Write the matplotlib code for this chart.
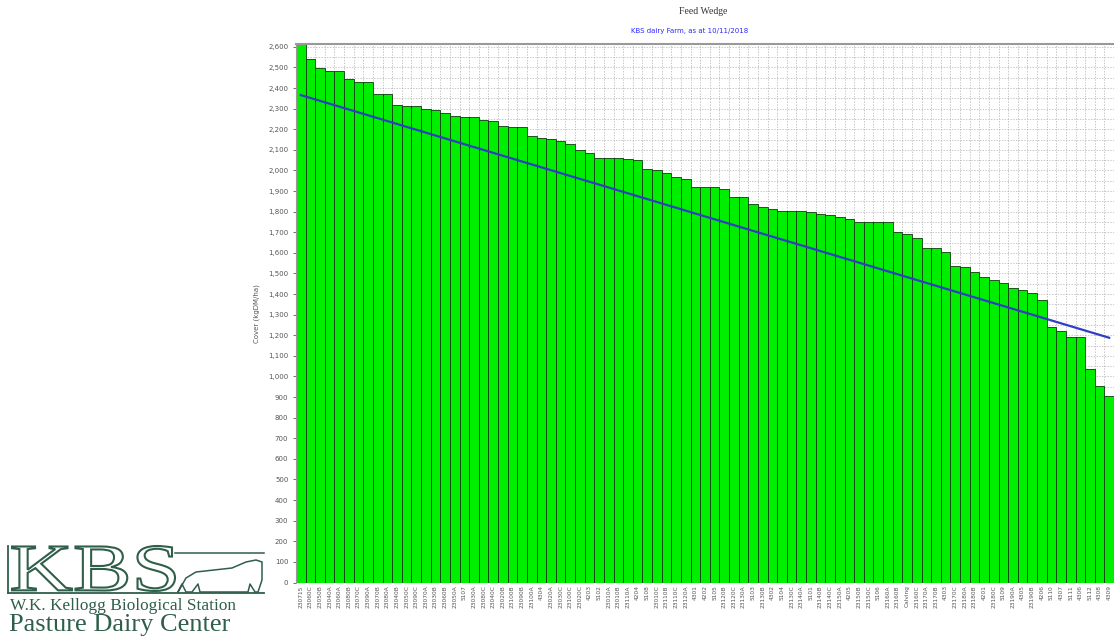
import matplotlib
matplotlib.use("Agg")
import matplotlib.pyplot as plt
from matplotlib.ticker import MultipleLocator, FuncFormatter
from matplotlib.textpath import TextPath
from matplotlib.patches import PathPatch
from matplotlib.font_manager import FontProperties
from matplotlib.transforms import Affine2D
import numpy as np

# data
cover = [2650, 2540, 2499, 2483, 2483, 2443, 2431, 2431, 2371, 2371,
         2318, 2315, 2315, 2300, 2294, 2281, 2263, 2261, 2258, 2245,
         2242, 2216, 2213, 2213, 2167, 2156, 2151, 2145, 2129, 2100,
         2083, 2062, 2062, 2059, 2054, 2051, 2006, 2002, 1986, 1970,
         1959, 1918, 1918, 1918, 1910, 1873, 1873, 1836, 1824, 1813,
         1805, 1805, 1805, 1797, 1787, 1784, 1773, 1765, 1752, 1752,
         1750, 1749, 1703, 1690, 1674, 1625, 1622, 1606, 1536, 1533,
         1509, 1484, 1468, 1455, 1428, 1420, 1407, 1371, 1242, 1222,
         1193, 1193, 1035, 954, 905]
paddocks = ["230715", "23060C", "23050B", "23040A", "23060A", "23080B", "23070C", "23090A",
            "23070B", "23080A", "23040B", "23050C", "23090C", "23070A", "23030B", "23060B",
            "23050A", "5107", "23030A", "23080C", "23040C", "23020B", "23100B", "23090B",
            "23100A", "4304", "23020A", "23030C", "23100C", "23020C", "4203", "5102",
            "23010A", "23010B", "23110A", "4204", "5108", "23010C", "23110B", "23110C",
            "23120A", "4301", "4202", "5105", "23120B", "23120C", "23130A", "5103",
            "23130B", "4302", "5104", "23130C", "23140A", "5101", "23140B", "23140C",
            "23150A", "4205", "23150B", "23150C", "5106", "23160A", "23160B", "Calving",
            "23160C", "23170A", "23170B", "4303", "23170C", "23180A", "23180B", "4201",
            "23180C", "5109", "23190A", "4305", "23190B", "4206", "5110", "4307",
            "5111", "4306", "5112", "4308", "4309"]
demand_x = [0, 84]
demand = [2366, 1188]

fig = plt.figure(figsize=(11.14, 6.38), dpi=100)
ax = fig.add_axes([296 / 1114, (638 - 582.5) / 638, 1 - 296 / 1114, (582.5 - 44) / 638])

x = np.arange(len(cover))
ax.bar(x, cover, width=1.0, color="#00ee00", edgecolor="#0b3a0b", linewidth=0.6, zorder=2)
ax.plot(demand_x, demand, color="#2f3fc4", linewidth=1.6, zorder=3)

ax.set_xlim(-0.5, 84.0)
ax.set_ylim(0, 2614)

ax.yaxis.set_major_locator(MultipleLocator(100))
ax.yaxis.set_minor_locator(MultipleLocator(50))
ax.yaxis.set_major_formatter(FuncFormatter(lambda v, p: f"{int(v):,}"))
ax.set_xticks(x)
ax.set_xticklabels(paddocks, rotation=90, fontsize=4.2, color="#555555")
ax.set_xticks(np.arange(-0.5, 85, 1.0), minor=True)
ax.tick_params(axis="y", labelsize=5, colors="#555555", length=2, width=0.6)
ax.tick_params(axis="x", length=0, pad=2)
ax.tick_params(which="minor", length=0)

ax.grid(True, which="minor", color="#b0b0b0", linestyle=(0, (2, 2)), linewidth=0.5, zorder=0)
ax.grid(True, which="major", axis="y", color="#b0b0b0", linestyle=(0, (2, 2)), linewidth=0.5, zorder=0)
ax.set_axisbelow(True)
for s in ["right", "bottom"]:
    ax.spines[s].set_visible(False)
ax.spines["top"].set_color("#999999")
ax.spines["top"].set_linewidth(1.5)
ax.spines["left"].set_color("#999999")

ax.set_ylabel("Cover (kgDM/ha)", fontsize=5, color="#555555", labelpad=6)

fig.text(703 / 1114, 1 - 12 / 638, "Feed Wedge", ha="center", va="center",
         fontsize=7, family="Liberation Serif", color="#333333")
fig.text(690 / 1114, 1 - 31 / 638, "KBS dairy Farm, as at 10/11/2018", ha="center", va="center",
         fontsize=5, color="#2a2aff")

# logo, drawn in pixel units
green = "#2f5f4a"
logo = fig.add_axes([0, 0, 1, 1], zorder=5)
logo.set_xlim(0, 1114)
logo.set_ylim(638, 0)
logo.axis("off")

tp = TextPath((0, 0), "KBS", size=100, prop=FontProperties(family="Liberation Serif"))
bb = tp.get_extents()
sx = (175 - 12) / bb.width
sy = (591 - 546) / bb.height
tr = Affine2D().translate(-bb.x0, -bb.y0).scale(sx, -sy).translate(12, 591)
logo.add_patch(PathPatch(tr.transform_path(tp), facecolor="white", edgecolor=green, linewidth=1.5))
logo.plot([8, 264], [593, 593], color=green, linewidth=1.3)
logo.plot([8, 8], [546, 593], color=green, linewidth=1.3)
# cow outline
cow_x = [178, 186, 196, 232, 246, 256, 262, 262, 258, 255, 250, 248, 240, 200, 198, 192, 186, 182, 178]
cow_y = [592, 578, 572, 568, 562, 560, 562, 580, 592, 592, 584, 592, 592, 592, 584, 592, 592, 584, 592]
logo.plot(cow_x, cow_y, color=green, linewidth=1.1)
logo.plot([175, 264], [553, 553], color=green, linewidth=1.1)

fig.text(10 / 1114, 1 - 606 / 638, "W.K. Kellogg Biological Station", fontsize=12.4,
         family="Liberation Serif", color=green, ha="left", va="center")
fig.text(9 / 1114, 1 - 625 / 638, "Pasture Dairy Center", fontsize=19,
         family="Liberation Serif", color=green, ha="left", va="center")

fig.savefig("out.png", dpi=100)
